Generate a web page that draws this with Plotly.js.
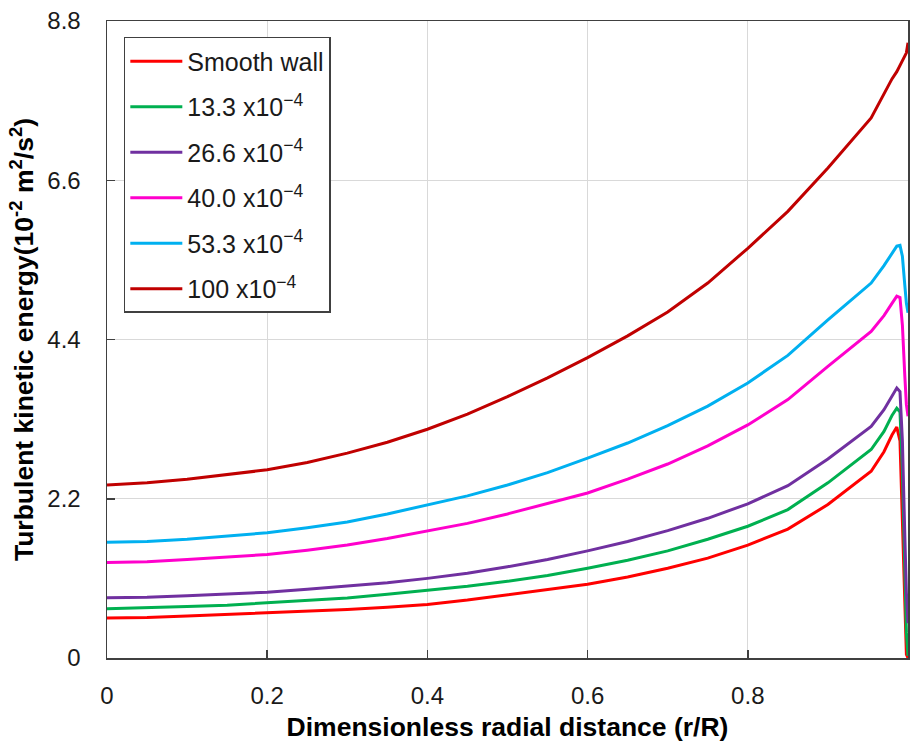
<!DOCTYPE html>
<html>
<head>
<meta charset="utf-8">
<script src="https://cdn.plot.ly/plotly-3.0.1.min.js"></script>
<style>html,body{margin:0;padding:0;background:#fff;}#chart{width:912px;height:745px;}</style>
</head>
<body>
<div id="chart"></div>
<script>
// Dimensionless radial distance r/R
const radialPos = [0, 0.05, 0.1, 0.15, 0.2, 0.25, 0.3, 0.35, 0.4, 0.45, 0.5, 0.55, 0.6, 0.65, 0.7, 0.75, 0.8, 0.85, 0.9, 0.954, 0.97, 0.98, 0.986, 0.99, 0.993, 0.996, 0.998, 1.0];

// Turbulent kinetic energy (10^-2 m^2/s^2)
const smoothWall = [0.553, 0.56, 0.58, 0.60, 0.62, 0.645, 0.67, 0.70, 0.74, 0.80, 0.87, 0.94, 1.02, 1.12, 1.24, 1.38, 1.56, 1.78, 2.12, 2.58, 2.85, 3.08, 3.19, 3.0, 1.95, 0.75, 0.05, 0.0];
const rough133   = [0.68, 0.69, 0.71, 0.73, 0.76, 0.79, 0.83, 0.88, 0.93, 0.99, 1.06, 1.14, 1.24, 1.35, 1.48, 1.64, 1.82, 2.05, 2.42, 2.88, 3.13, 3.35, 3.45, 3.40, 2.6, 1.2, 0.35, 0.03];
const rough266   = [0.834, 0.84, 0.86, 0.88, 0.91, 0.95, 0.99, 1.04, 1.10, 1.17, 1.26, 1.36, 1.48, 1.61, 1.76, 1.93, 2.13, 2.38, 2.75, 3.20, 3.43, 3.63, 3.73, 3.68, 3.0, 1.7, 0.9, 0.48];
const rough400   = [1.32, 1.33, 1.36, 1.39, 1.43, 1.49, 1.56, 1.65, 1.75, 1.86, 1.99, 2.13, 2.28, 2.47, 2.68, 2.93, 3.22, 3.57, 4.03, 4.51, 4.73, 4.90, 5.00, 4.98, 4.6, 3.9, 3.5, 3.34];
const rough533   = [1.60, 1.61, 1.64, 1.68, 1.73, 1.80, 1.88, 1.99, 2.11, 2.24, 2.39, 2.56, 2.76, 2.97, 3.21, 3.48, 3.80, 4.18, 4.67, 5.18, 5.42, 5.60, 5.69, 5.70, 5.55, 5.15, 4.9, 4.77];
const rough1000  = [2.39, 2.42, 2.47, 2.53, 2.60, 2.70, 2.83, 2.98, 3.16, 3.37, 3.61, 3.87, 4.15, 4.45, 4.78, 5.18, 5.66, 6.17, 6.77, 7.46, 7.80, 8.00, 8.10, 8.18, 8.25, 8.32, 8.36, 8.50];

const seriesNames = ['Smooth wall', '13.3 x10<sup>\u22124</sup>', '26.6 x10<sup>\u22124</sup>', '40.0 x10<sup>\u22124</sup>', '53.3 x10<sup>\u22124</sup>', '100 x10<sup>\u22124</sup>'];
const seriesValues = [smoothWall, rough133, rough266, rough400, rough533, rough1000];
const seriesColors = ['#FF0000', '#00B050', '#7030A0', '#FF00CC', '#00B0F0', '#C00000'];

const yTickVals = [0, 2.2, 4.4, 6.6, 8.8];
const yTickText = ['0', '2.2', '4.4', '6.6', '8.8'];
const xTickVals = [0, 0.2, 0.4, 0.6, 0.8, 1];
const xTickText = ['0', '0.2', '0.4', '0.6', '0.8', '1'];

const FONT = '"Liberation Sans", Arial, sans-serif';

const traces = seriesValues.map((vals, i) => ({
  x: radialPos,
  y: vals,
  type: 'scatter',
  mode: 'lines',
  name: seriesNames[i],
  legendgroup: 'g' + i,
  line: {color: seriesColors[i], width: 3, shape: 'linear'}
}));

const layout = {
  width: 912,
  height: 745,
  margin: {l: 107, r: 4, t: 21, b: 87},
  paper_bgcolor: '#ffffff',
  plot_bgcolor: '#ffffff',
  font: {family: FONT, size: 24, color: '#1a1a1a'},
  showlegend: true,
  legend: {
    x: 0.021, y: 0.975, xanchor: 'left', yanchor: 'top',
    bgcolor: '#ffffff',
    bordercolor: '#404040',
    borderwidth: 1.5,
    font: {family: FONT, size: 25, color: '#1a1a1a'},
    tracegroupgap: 10,
    itemwidth: 52
  },
  xaxis: {
    range: [0, 1],
    tickvals: xTickVals,
    ticktext: xTickText,
    ticks: 'inside',
    ticklen: 8,
    tickwidth: 1.5,
    tickcolor: '#404040',
    ticklabelstandoff: 16,
    showline: true,
    linecolor: '#404040',
    linewidth: 1.5,
    mirror: true,
    showgrid: true,
    gridcolor: '#d9d9d9',
    gridwidth: 1,
    zeroline: false,
    tickfont: {family: FONT, size: 24, color: '#1a1a1a'},
    title: {text: 'Dimensionless radial distance (r/R)', font: {family: FONT, size: 26.5, color: '#000000', weight: 'bold'}, standoff: 9}
  },
  yaxis: {
    range: [0, 8.8],
    tickvals: yTickVals,
    ticktext: yTickText,
    ticks: 'inside',
    ticklen: 8,
    tickwidth: 1.5,
    tickcolor: '#404040',
    ticklabelstandoff: 20,
    showline: true,
    linecolor: '#404040',
    linewidth: 1.5,
    mirror: true,
    showgrid: true,
    gridcolor: '#d9d9d9',
    gridwidth: 1,
    zeroline: false,
    tickfont: {family: FONT, size: 24, color: '#1a1a1a'},
    title: {text: 'Turbulent kinetic energy(10<sup>-2</sup> m<sup>2</sup>/s<sup>2</sup>)', font: {family: FONT, size: 26.5, color: '#000000', weight: 'bold'}, standoff: 6}
  }
};

Plotly.newPlot('chart', traces, layout, {displayModeBar: false, staticPlot: true});
</script>
</body>
</html>
